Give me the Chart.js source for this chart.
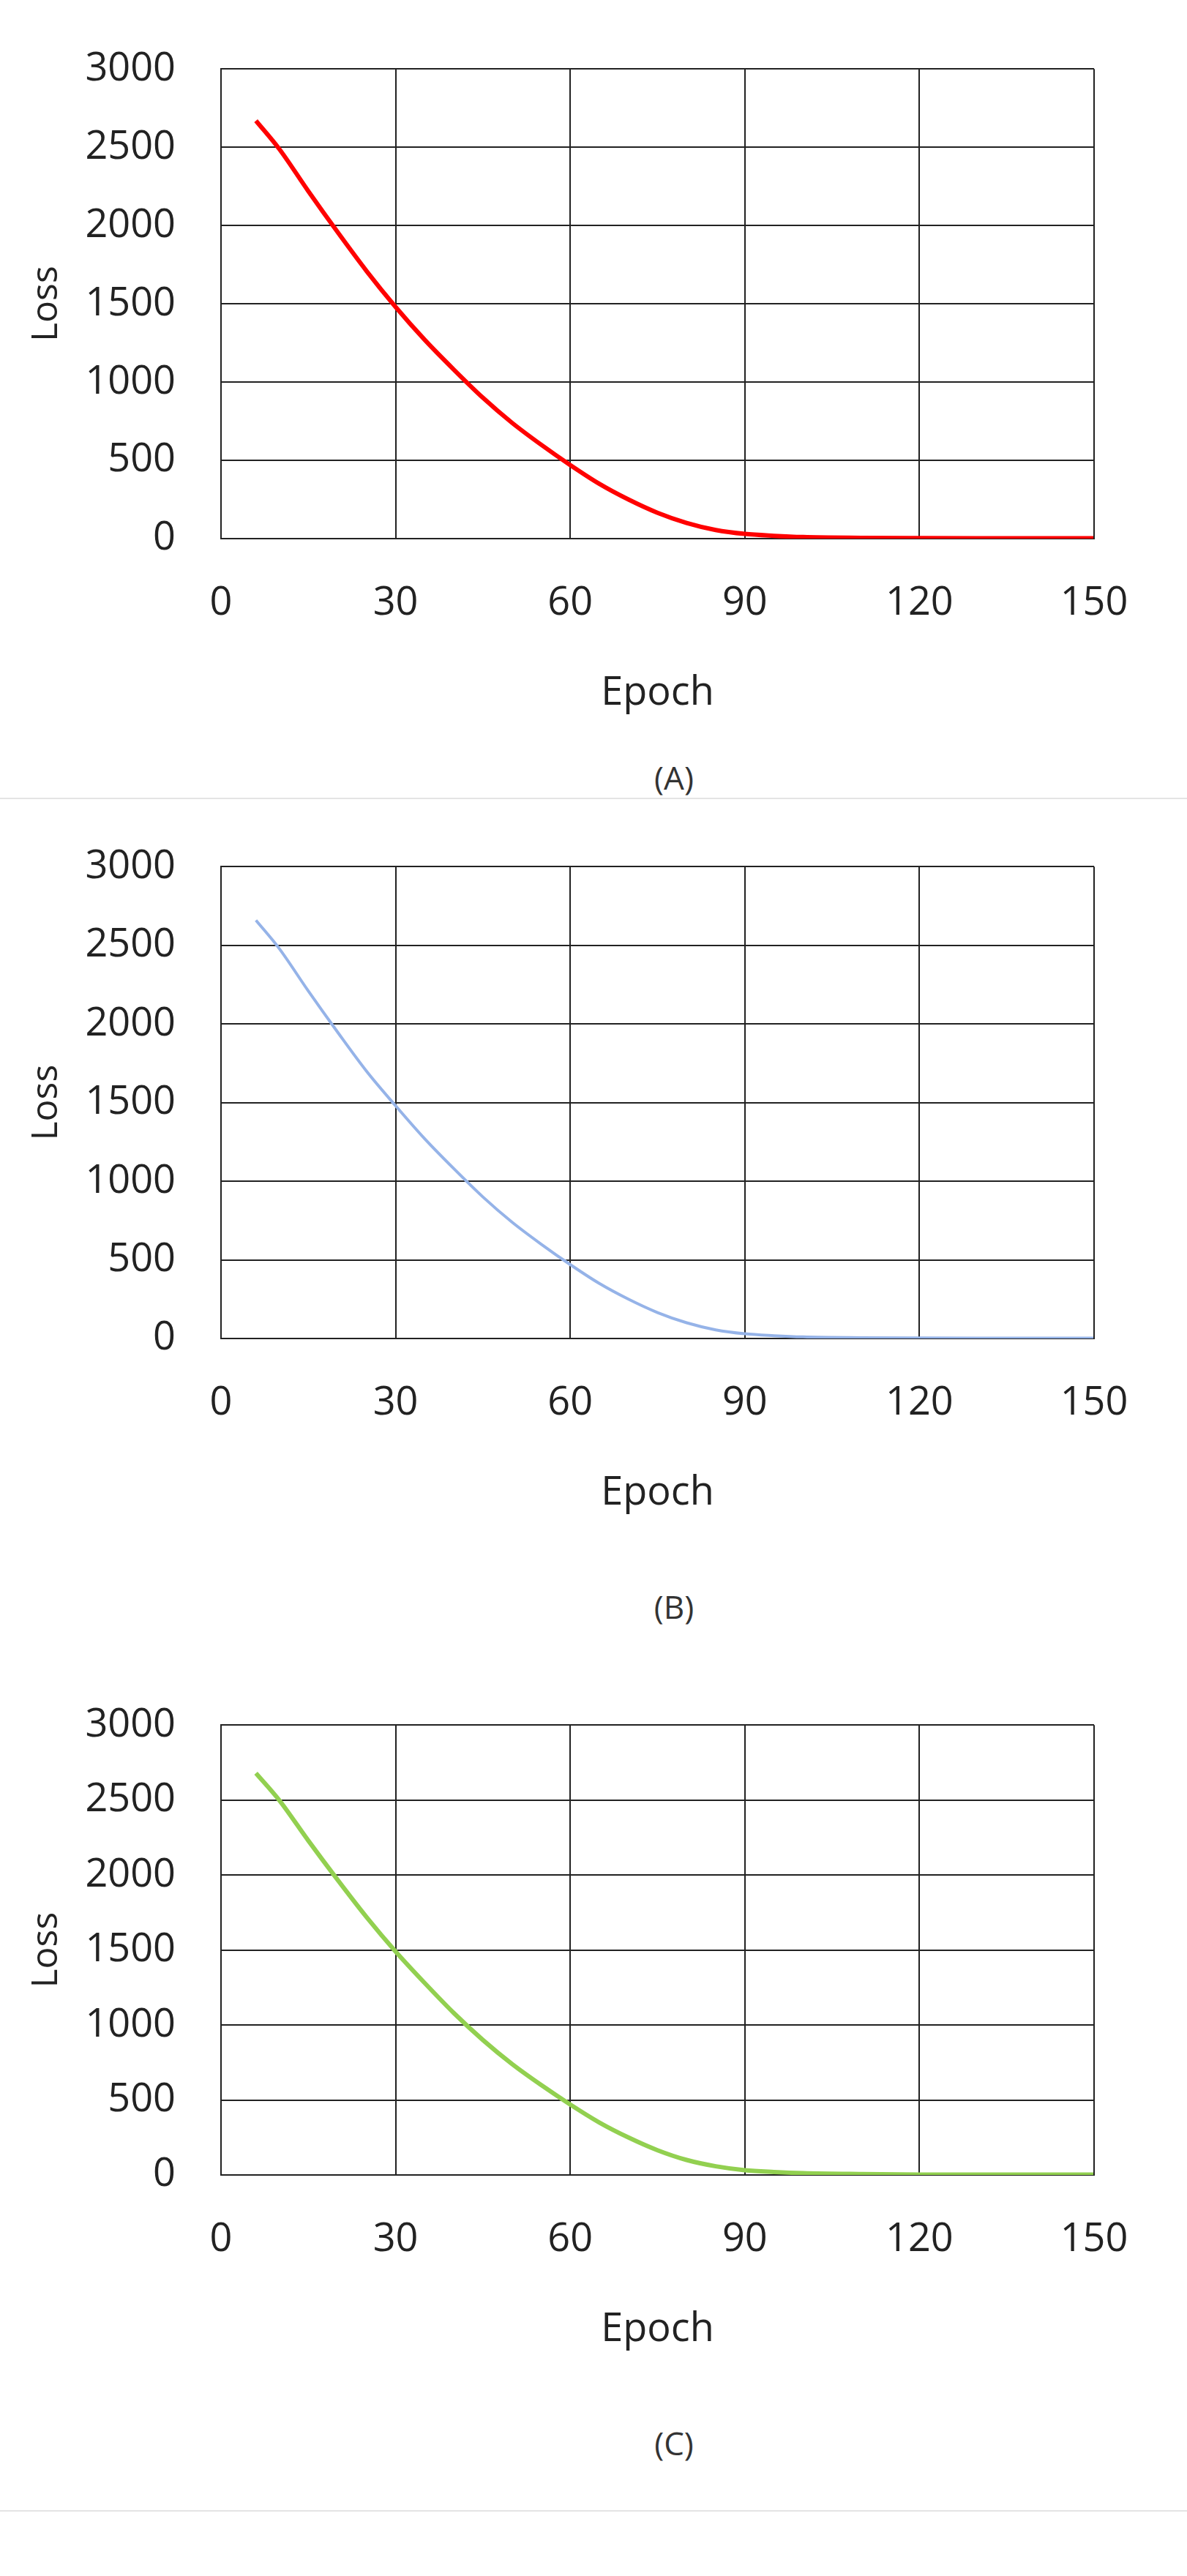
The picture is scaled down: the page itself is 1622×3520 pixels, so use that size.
<!DOCTYPE html>
<html>
<head>
<meta charset="utf-8">
<script src="https://cdn.jsdelivr.net/npm/chart.js@4"></script>
<style>
  body { margin: 0; background: #fff; width: 1622px; height: 3520px; position: relative; font-family: "Open Sans", sans-serif; }
  .panel { position: absolute; left: 0; width: 1622px; }
  .cap { position: absolute; left: 0; width: 1622px; padding-left: 220px; box-sizing: border-box; text-align: center; font-size: 44px; color: #333; }
  .sep { position: absolute; left: 0; width: 1622px; height: 2px; background: #e4e4e4; }
</style>
</head>
<body>
<div class="panel" style="top:0;height:980px"><canvas id="plotA"></canvas></div>
<div class="cap" style="top:1032px">(A)</div>
<div class="sep" style="top:1090px"></div>
<div class="panel" style="top:1090px;height:983px"><canvas id="plotB"></canvas></div>
<div class="cap" style="top:2165px">(B)</div>
<div class="panel" style="top:2263px;height:953px"><canvas id="plotC"></canvas></div>
<div class="cap" style="top:3308px">(C)</div>
<div class="sep" style="top:3430px"></div>
<script>
// loss curves
const epochs = [6, 10, 15, 20, 25, 30, 35, 40, 45, 50, 55, 60, 65, 70, 75, 80, 85, 90, 95, 100, 110, 120, 130, 140, 150];
const lossA = [2670, 2490, 2220, 1960, 1710, 1480, 1270, 1080, 900, 740, 600, 470, 350, 250, 165, 100, 55, 30, 18, 10, 5, 3, 2, 2, 2];
const lossB = [2660, 2480, 2210, 1950, 1700, 1480, 1270, 1080, 900, 740, 600, 470, 350, 250, 165, 100, 55, 30, 18, 10, 5, 3, 2, 2, 2];
const lossC = [2680, 2500, 2230, 1970, 1720, 1490, 1280, 1080, 900, 740, 600, 470, 350, 250, 165, 100, 58, 32, 20, 12, 6, 3, 2, 2, 2];
const xTicks = [0, 30, 60, 90, 120, 150];
const yTicks = [0, 500, 1000, 1500, 2000, 2500, 3000];

function makeChart(id, values, color, width) {
  var ctx = document.getElementById(id).getContext('2d');
  return new Chart(ctx, {
    type: 'line',
    data: {
      datasets: [{
        data: epochs.map((e, i) => ({x: e, y: values[i]})),
        borderColor: color,
        borderWidth: width,
        pointRadius: 0,
        cubicInterpolationMode: 'monotone'
      }]
    },
    options: {
      responsive: true,
      maintainAspectRatio: false,
      animation: false,
      layout: { padding: { top: 58, right: 127, bottom: 0, left: 34 } },
      plugins: { legend: { display: false }, tooltip: { enabled: false } },
      scales: {
        x: {
          type: 'linear', min: 0, max: 150,
          afterBuildTicks: s => { s.ticks = xTicks.map(v => ({value: v})); },
          afterFit: s => { s.height = 244; },
          grid: { color: '#222', lineWidth: 2, drawTicks: false },
          border: { color: '#222', width: 2 },
          ticks: { padding: 56, color: '#222', font: { size: 54, family: 'Open Sans' }, callback: v => String(v) },
          title: { display: true, text: 'Epoch', color: '#222', font: { size: 54, family: 'Open Sans' }, padding: 0 }
        },
        y: {
          min: 0, max: 3000,
          afterBuildTicks: s => { s.ticks = yTicks.map(v => ({value: v})); },
          afterFit: s => { s.width = 268; },
          grid: { color: '#222', lineWidth: 2, drawTicks: false },
          border: { color: '#222', width: 2 },
          ticks: { padding: 62, color: '#222', font: { size: 54, family: 'Open Sans' }, callback: v => String(v) },
          title: { display: true, text: 'Loss', color: '#222', font: { size: 50, family: 'Open Sans' }, padding: 0 }
        }
      }
    },
    plugins: [{
      id: 'rightBorder',
      afterDraw(c) {
        const a = c.chartArea, g = c.ctx;
        g.save(); g.strokeStyle = '#222'; g.lineWidth = 2;
        g.beginPath(); g.moveTo(a.right, a.top); g.lineTo(a.right, a.bottom); g.stroke();
        g.restore();
      }
    }]
  });
}

makeChart('plotA', lossA, '#ff0000', 6);
makeChart('plotB', lossB, '#95b3e8', 4);
makeChart('plotC', lossC, '#92d050', 6);
</script>
</body>
</html>
